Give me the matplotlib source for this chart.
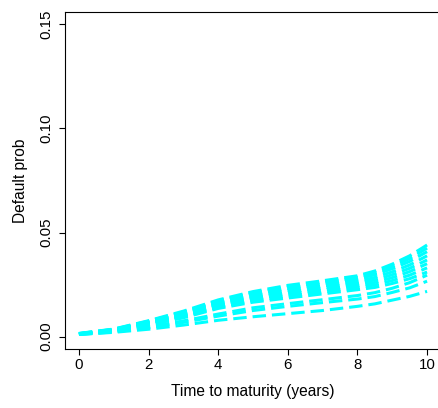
import matplotlib
matplotlib.use("Agg")
import matplotlib.pyplot as plt

plt.rcParams["font.family"] = ["Liberation Sans", "DejaVu Sans"]

# time to maturity (years)
years = [0, 1, 2, 3, 4, 5, 6, 7, 8, 8.5, 9, 9.5, 10]

# default probability curves (dense upper group)
curve_top = [0.0015, 0.0036, 0.0076, 0.0122, 0.0176, 0.0216, 0.0246, 0.0268, 0.0292, 0.0315, 0.0348, 0.0388, 0.0440]
curve_b6 = [0.0014, 0.0035, 0.0074, 0.0118, 0.0171, 0.0210, 0.0239, 0.0260, 0.0284, 0.0306, 0.0337, 0.0375, 0.0425]
curve_b5 = [0.0014, 0.0034, 0.0071, 0.0114, 0.0166, 0.0204, 0.0231, 0.0252, 0.0276, 0.0297, 0.0326, 0.0361, 0.0408]
curve_b4 = [0.0013, 0.0032, 0.0068, 0.0109, 0.0160, 0.0196, 0.0222, 0.0243, 0.0265, 0.0284, 0.0311, 0.0344, 0.0388]
curve_b3 = [0.0013, 0.0031, 0.0065, 0.0104, 0.0154, 0.0188, 0.0213, 0.0233, 0.0255, 0.0272, 0.0297, 0.0328, 0.0368]
curve_b2 = [0.0012, 0.0030, 0.0062, 0.0100, 0.0148, 0.0181, 0.0204, 0.0224, 0.0245, 0.0260, 0.0283, 0.0312, 0.0350]
curve_b1 = [0.0012, 0.0028, 0.0058, 0.0095, 0.0141, 0.0173, 0.0194, 0.0214, 0.0235, 0.0248, 0.0269, 0.0295, 0.0330]
curve_b0 = [0.0011, 0.0027, 0.0055, 0.0090, 0.0135, 0.0165, 0.0185, 0.0205, 0.0225, 0.0236, 0.0255, 0.0278, 0.0310]
# lower, separated curves
curve_l1 = [0.0010, 0.0024, 0.0046, 0.0075, 0.0108, 0.0138, 0.0158, 0.0177, 0.0197, 0.0211, 0.0232, 0.0259, 0.0295]
curve_l2 = [0.0010, 0.0022, 0.0042, 0.0068, 0.0098, 0.0125, 0.0145, 0.0163, 0.0180, 0.0192, 0.0212, 0.0234, 0.0266]
curve_l3 = [0.0010, 0.0020, 0.0035, 0.0055, 0.0078, 0.0095, 0.0110, 0.0125, 0.0145, 0.0157, 0.0175, 0.0193, 0.0217]

curves = [curve_top, curve_b6, curve_b5, curve_b4, curve_b3, curve_b2, curve_b1, curve_b0,
          curve_l1, curve_l2, curve_l3]

fig = plt.figure(figsize=(4.38, 4.08), dpi=100)
ax = fig.add_axes([65/438, 59/408, 376/438, 337/408])

for c in curves:
    ax.plot(years, c, color="#00FFFF", linewidth=2.2, dashes=(4.4, 1.95),
            dash_capstyle="butt", solid_joinstyle="miter")

ax.set_xlim(-0.4, 10.4)
ax.set_ylim(-0.006, 0.156)
ax.set_xticks([0, 2, 4, 6, 8, 10])
ax.set_yticks([0.0, 0.05, 0.10, 0.15])
ax.set_yticklabels(["0.00", "0.05", "0.10", "0.15"], rotation=90, va="center")

for s in ax.spines.values():
    s.set_linewidth(0.8)
ax.tick_params(length=4.3, width=0.8, labelsize=10.8)
ax.tick_params(axis="x", pad=2.5)
ax.tick_params(axis="y", pad=3.8)

ax.set_xlabel("Time to maturity (years)", fontsize=11.2)
ax.set_ylabel("Default prob", fontsize=11.2)
ax.xaxis.set_label_coords(0.5, -0.105)
ax.yaxis.set_label_coords(-0.098, 0.5)

fig.savefig("out.png", dpi=100)
